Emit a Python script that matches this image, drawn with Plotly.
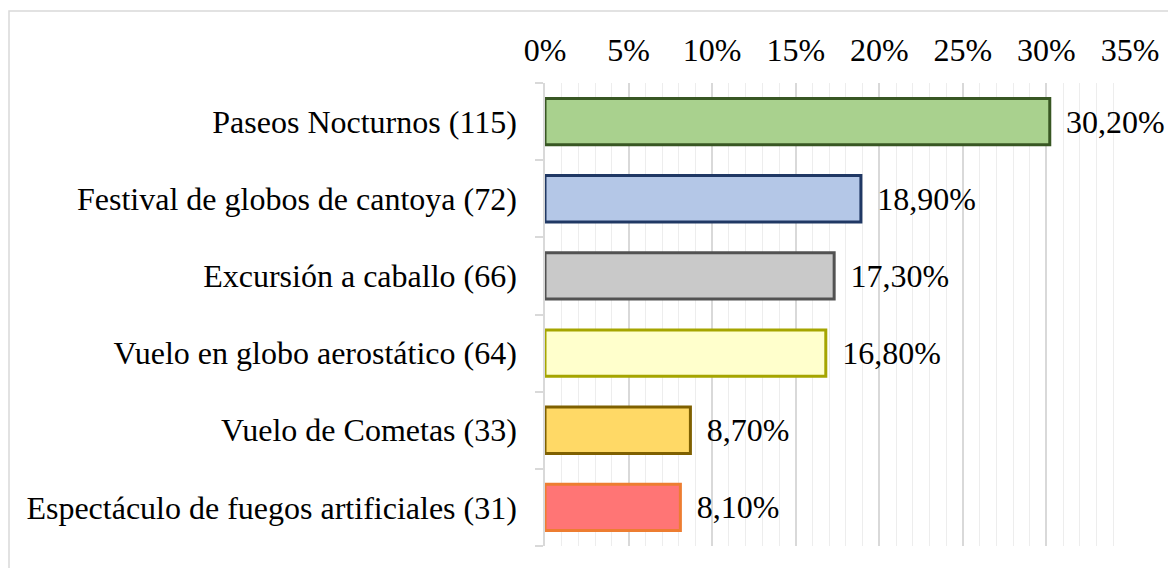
import plotly.graph_objects as go

categories = [
    "Paseos Nocturnos (115)",
    "Festival de globos de cantoya (72)",
    "Excursión a caballo (66)",
    "Vuelo en globo aerostático (64)",
    "Vuelo de Cometas (33)",
    "Espectáculo de fuegos artificiales (31)",
]
values = [30.2, 18.9, 17.3, 16.8, 8.7, 8.1]
fill_colors = ["#A9D18E", "#B4C7E7", "#C9C9C9", "#FFFFCC", "#FFD966", "#FF7575"]
line_colors = ["#385723", "#203864", "#525252", "#A5A500", "#7F6000", "#ED7D31"]
tick_vals = [0, 5, 10, 15, 20, 25, 30, 35]

FONT = "Liberation Serif, Times New Roman, serif"
FS = 32

fig = go.Figure()
fig.add_trace(go.Bar(
    y=categories,
    x=values,
    orientation="h",
    marker=dict(color=fill_colors, line=dict(color=line_colors, width=3)),
    text=[" \u2006" + f"{v:.2f}%".replace(".", ",") for v in values],
    textposition="outside",
    textfont=dict(family=FONT, size=FS, color="#000000"),
    cliponaxis=False,
    width=0.6,
))

# page body has an 8px margin, so the figure is sized to fit the window
W, H = 1168, 560
L, R, T, B = 537, 46, 75, 22
pw, ph = W - L - R, H - T - B

fig.update_layout(
    width=W, height=H,
    margin=dict(l=L, r=R, t=T, b=B),
    paper_bgcolor="white",
    plot_bgcolor="white",
    showlegend=False,
    font=dict(family=FONT, size=FS, color="#000000"),
    xaxis=dict(
        side="top",
        range=[0, 35],
        tickvals=tick_vals,
        ticktext=[f"{v}%" for v in tick_vals],
        showgrid=True,
        gridcolor="#D9D9D9",
        gridwidth=1.5,
        minor=dict(dtick=1, showgrid=True, gridcolor="#EDEDED", gridwidth=1),
        zeroline=False,
        showline=False,
        ticks="",
        ticklabelstandoff=15,
        tickfont=dict(family=FONT, size=FS, color="#000000"),
    ),
    yaxis=dict(
        categoryorder="array",
        categoryarray=categories[::-1],
        autorange=True,
        showline=True,
        linecolor="#D9D9D9",
        linewidth=1.5,
        ticks="outside",
        tickson="boundaries",
        ticklen=8,
        tickcolor="#D9D9D9",
        tickwidth=1.5,
        showgrid=False,
        ticklabelstandoff=20,
        tickfont=dict(family=FONT, size=FS, color="#000000"),
    ),
    shapes=[
        dict(
            type="rect", xref="paper", yref="paper",
            x0=(1 - L) / pw, x1=(W + 20 - L) / pw,
            y0=-(B + 20) / ph, y1=1 + (T - 3) / ph,
            line=dict(color="#D9D9D9", width=1.5),
            fillcolor="rgba(0,0,0,0)",
            layer="below",
        )
    ],
)

fig.write_html("out.html")
